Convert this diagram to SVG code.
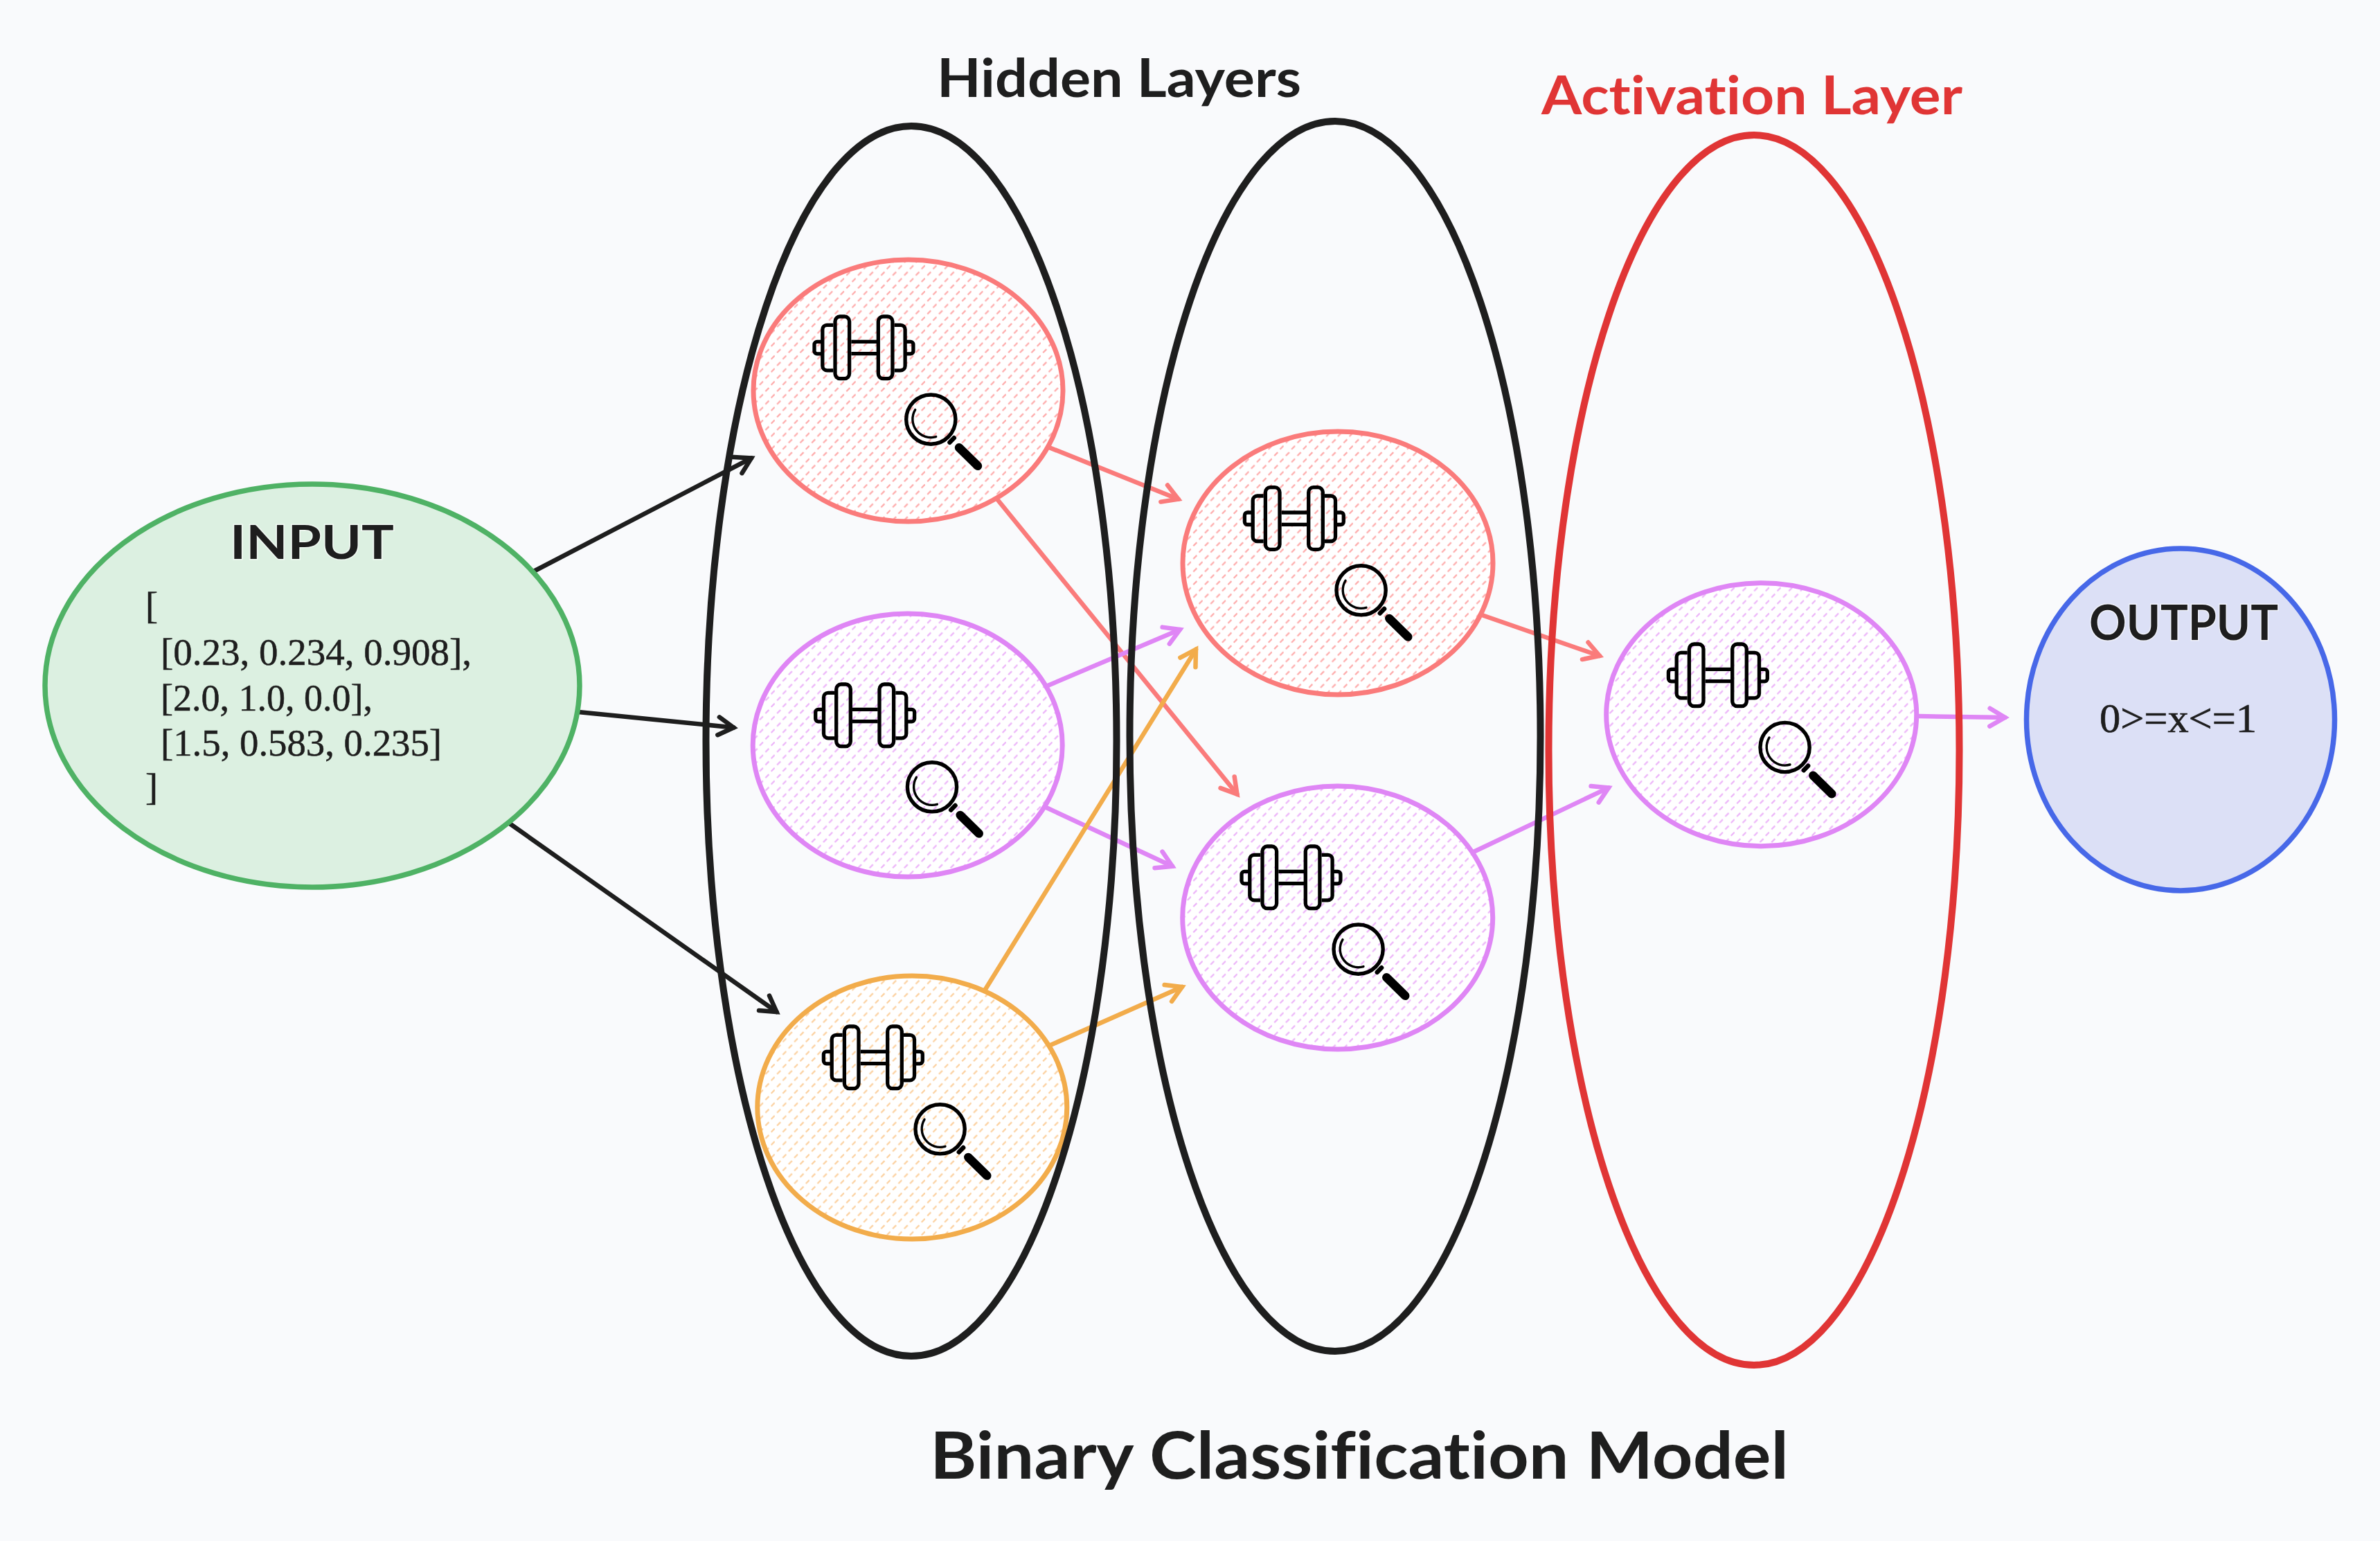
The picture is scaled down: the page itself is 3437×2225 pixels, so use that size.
<svg xmlns="http://www.w3.org/2000/svg" width="3437" height="2225" viewBox="0 0 3437 2225">
<style>
.hand{font-family:"Lato","Noto Sans",sans-serif;font-weight:700;fill:#1e1e1e;font-variant-ligatures:none}
.halo{paint-order:stroke;stroke:#fff;stroke-opacity:.6;stroke-width:3px}
.data{font-family:"Liberation Serif",serif;font-size:54px;fill:#1e1e1e;stroke:#1e1e1e;stroke-width:.5px}
.result{font-family:"Liberation Serif",serif;font-size:60px;fill:#1e1e1e;stroke:#1e1e1e;stroke-width:.7px}
.layer{fill:none;stroke-width:10}
.node{stroke-width:7}
.conn{fill:none;stroke-width:6.5;stroke-linecap:round}
.black{stroke:#1e1e1e}.pink{stroke:#fa7b7b}.purple{stroke:#df86f5}.orange{stroke:#f2ac4b}
.ic{fill:none;stroke:#000;stroke-width:5.300;stroke-linejoin:round}
.ch{fill:none;stroke-width:6.5;stroke-linecap:round;stroke-linejoin:miter}
</style>
<defs>
<pattern id="hP" patternUnits="userSpaceOnUse" width="16.700" height="18.600"><rect width="16.700" height="18.600" fill="#fff"/><path d="M3.200 7.100L8.200 2.100M11.500 16.400L16.500 11.400" stroke="#fea9a9" stroke-width="2.200"/></pattern>
<pattern id="hU" patternUnits="userSpaceOnUse" width="16.700" height="18.600"><rect width="16.700" height="18.600" fill="#fff"/><path d="M3.200 7.100L8.200 2.100M11.500 16.400L16.500 11.400" stroke="#ecb3f9" stroke-width="2.200"/></pattern>
<pattern id="hO" patternUnits="userSpaceOnUse" width="16.700" height="18.600"><rect width="16.700" height="18.600" fill="#fff"/><path d="M3.200 7.100L8.200 2.100M11.500 16.400L16.500 11.400" stroke="#fcd09e" stroke-width="2.200"/></pattern>
<marker id="aB" markerUnits="userSpaceOnUse" markerWidth="60" markerHeight="60" refX="40" refY="30" orient="auto"><path class="ch" stroke="#1e1e1e" d="M18 17L40 30L18 43"/></marker>
<marker id="aP" markerUnits="userSpaceOnUse" markerWidth="60" markerHeight="60" refX="40" refY="30" orient="auto"><path class="ch" stroke="#fa7b7b" d="M18 17L40 30L18 43"/></marker>
<marker id="aU" markerUnits="userSpaceOnUse" markerWidth="60" markerHeight="60" refX="40" refY="30" orient="auto"><path class="ch" stroke="#df86f5" d="M18 17L40 30L18 43"/></marker>
<marker id="aO" markerUnits="userSpaceOnUse" markerWidth="60" markerHeight="60" refX="40" refY="30" orient="auto"><path class="ch" stroke="#f2ac4b" d="M18 17L40 30L18 43"/></marker>
<g id="dumbbell" class="ic">
<rect x="32.700" y="2.700" width="20.600" height="89.600" rx="7"/>
<rect x="95" y="2.700" width="20.600" height="89.600" rx="7"/>
<path d="M30 15H21a6.500 6.500 0 0 0-6.500 6.500V74a6.500 6.500 0 0 0 6.500 6.500H30"/>
<path d="M118.300 15H127.300a6.500 6.500 0 0 1 6.500 6.500V74a6.500 6.500 0 0 1-6.500 6.500H118.300"/>
<path d="M14.500 39H7a4 4 0 0 0-4.300 4V52.500a4 4 0 0 0 4.300 4H14.500"/>
<path d="M133.800 39H141.300a4 4 0 0 1 4.300 4V52.500a4 4 0 0 1-4.300 4H133.800"/>
<path d="M56 39H92.700M56 56.300H92.700"/>
</g>
<g id="magnifier" fill="none" stroke="#000">
<circle cx="38.300" cy="38.300" r="35.600" stroke-width="5.400"/>
<path d="M15.700 24.300A26.400 26.400 0 0 0 45.700 63.300" stroke-width="3.400" stroke-linecap="round"/>
<path d="M65.500 71.500L71.800 65" stroke-width="6.500" stroke-linecap="round"/>
<path d="M79 79L106 105.500" stroke-width="12.500" stroke-linecap="round"/>
</g>
</defs>
<rect width="3437" height="2225" fill="#f9fafc"/>
<g id="connectors">
<path class="conn black" marker-end="url(#aB)" d="M770.600 825L1085 661.500"/>
<path class="conn black" marker-end="url(#aB)" d="M835 1028L1059.500 1050.500"/>
<path class="conn black" marker-end="url(#aB)" d="M734.500 1188L1121.500 1461"/>
<path class="conn pink" marker-end="url(#aP)" d="M1515 646L1701.600 720.700"/>
<path class="conn pink" marker-end="url(#aP)" d="M1441 722L1786.500 1146.700"/>
<path class="conn purple" marker-end="url(#aU)" d="M1513 990L1704 909"/>
<path class="conn purple" marker-end="url(#aU)" d="M1511 1166L1693 1250.700"/>
<path class="conn orange" marker-end="url(#aO)" d="M1422 1430L1727 937.700"/>
<path class="conn orange" marker-end="url(#aO)" d="M1517 1509L1707 1425"/>
<path class="conn pink" marker-end="url(#aP)" d="M2140 888L2310 947"/>
<path class="conn purple" marker-end="url(#aU)" d="M2128 1230L2323 1137.400"/>
<path class="conn purple" marker-end="url(#aU)" d="M2770 1034L2895.500 1036"/>
</g>
<g id="input">
<ellipse cx="451" cy="990" rx="386" ry="291" fill="#dcf0e1" stroke="#4fb265" stroke-width="7.500"/>
<text class="hand halo" x="332" y="807" font-size="66" textLength="237" lengthAdjust="spacingAndGlyphs">INPUT</text>
<text class="data" x="210" y="893">[</text>
<text class="data" x="232" y="960" textLength="449" lengthAdjust="spacingAndGlyphs">[0.23, 0.234, 0.908],</text>
<text class="data" x="232" y="1026" textLength="306" lengthAdjust="spacingAndGlyphs">[2.0, 1.0, 0.0],</text>
<text class="data" x="232" y="1091" textLength="406" lengthAdjust="spacingAndGlyphs">[1.5, 0.583, 0.235]</text>
<text class="data" x="210" y="1155">]</text>
</g>
<g id="n1"><ellipse class="node" cx="1311.500" cy="564" rx="223.500" ry="189" fill="url(#hP)" stroke="#fa7b7b"/><use href="#dumbbell" x="1173.300" y="454.300"/><use href="#magnifier" x="1306" y="567.300"/></g>
<g id="n2"><ellipse class="node" cx="1310.700" cy="1076" rx="223.500" ry="190" fill="url(#hU)" stroke="#df86f5"/><use href="#dumbbell" x="1175" y="985.300"/><use href="#magnifier" x="1307.700" y="1098"/></g>
<g id="n3"><ellipse class="node" cx="1317.300" cy="1599" rx="223.500" ry="190" fill="url(#hO)" stroke="#f2ac4b"/><use href="#dumbbell" x="1186.700" y="1479.300"/><use href="#magnifier" x="1319.300" y="1592"/></g>
<g id="n4"><ellipse class="node" cx="1932" cy="813" rx="224" ry="190" fill="url(#hP)" stroke="#fa7b7b"/><use href="#dumbbell" x="1794.700" y="701"/><use href="#magnifier" x="1927.300" y="814"/></g>
<g id="n5"><ellipse class="node" cx="1931.700" cy="1325" rx="224" ry="190" fill="url(#hU)" stroke="#df86f5"/><use href="#dumbbell" x="1790.300" y="1219.300"/><use href="#magnifier" x="1923.300" y="1332.300"/></g>
<g id="n6"><ellipse class="node" cx="2543.700" cy="1031.700" rx="224" ry="190" fill="url(#hU)" stroke="#df86f5"/><use href="#dumbbell" x="2406.700" y="927.300"/><use href="#magnifier" x="2539.300" y="1040.700"/></g>
<g id="hidden-layer-1"><ellipse class="layer" cx="1316" cy="1070" rx="296.500" ry="888" stroke="#1e1e1e"/></g>
<g id="hidden-layer-2"><ellipse class="layer" cx="1928" cy="1063" rx="296.500" ry="888" stroke="#1e1e1e"/></g>
<g id="activation-layer"><ellipse class="layer" cx="2533" cy="1083" rx="296.500" ry="888" stroke="#e03535"/></g>
<g id="output">
<ellipse cx="3149" cy="1039" rx="222.500" ry="247" fill="#dce0f6" stroke="#4768e8" stroke-width="7.500"/>
<text class="hand halo" x="3017" y="924" font-size="70" textLength="273" lengthAdjust="spacingAndGlyphs">OUTPUT</text>
<text class="result" x="3032" y="1057" textLength="227" lengthAdjust="spacingAndGlyphs">0&gt;=x&lt;=1</text>
</g>
<g id="titles">
<text class="hand" x="1353" y="140" font-size="76" textLength="526" lengthAdjust="spacingAndGlyphs">Hidden Layers</text>
<text class="hand" x="2226" y="165" font-size="76" style="fill:#e03535" textLength="608" lengthAdjust="spacingAndGlyphs">Activation Layer</text>
<text class="hand" x="1343" y="2135" font-size="94" textLength="1240" lengthAdjust="spacingAndGlyphs">Binary Classification Model</text>
</g>
</svg>
